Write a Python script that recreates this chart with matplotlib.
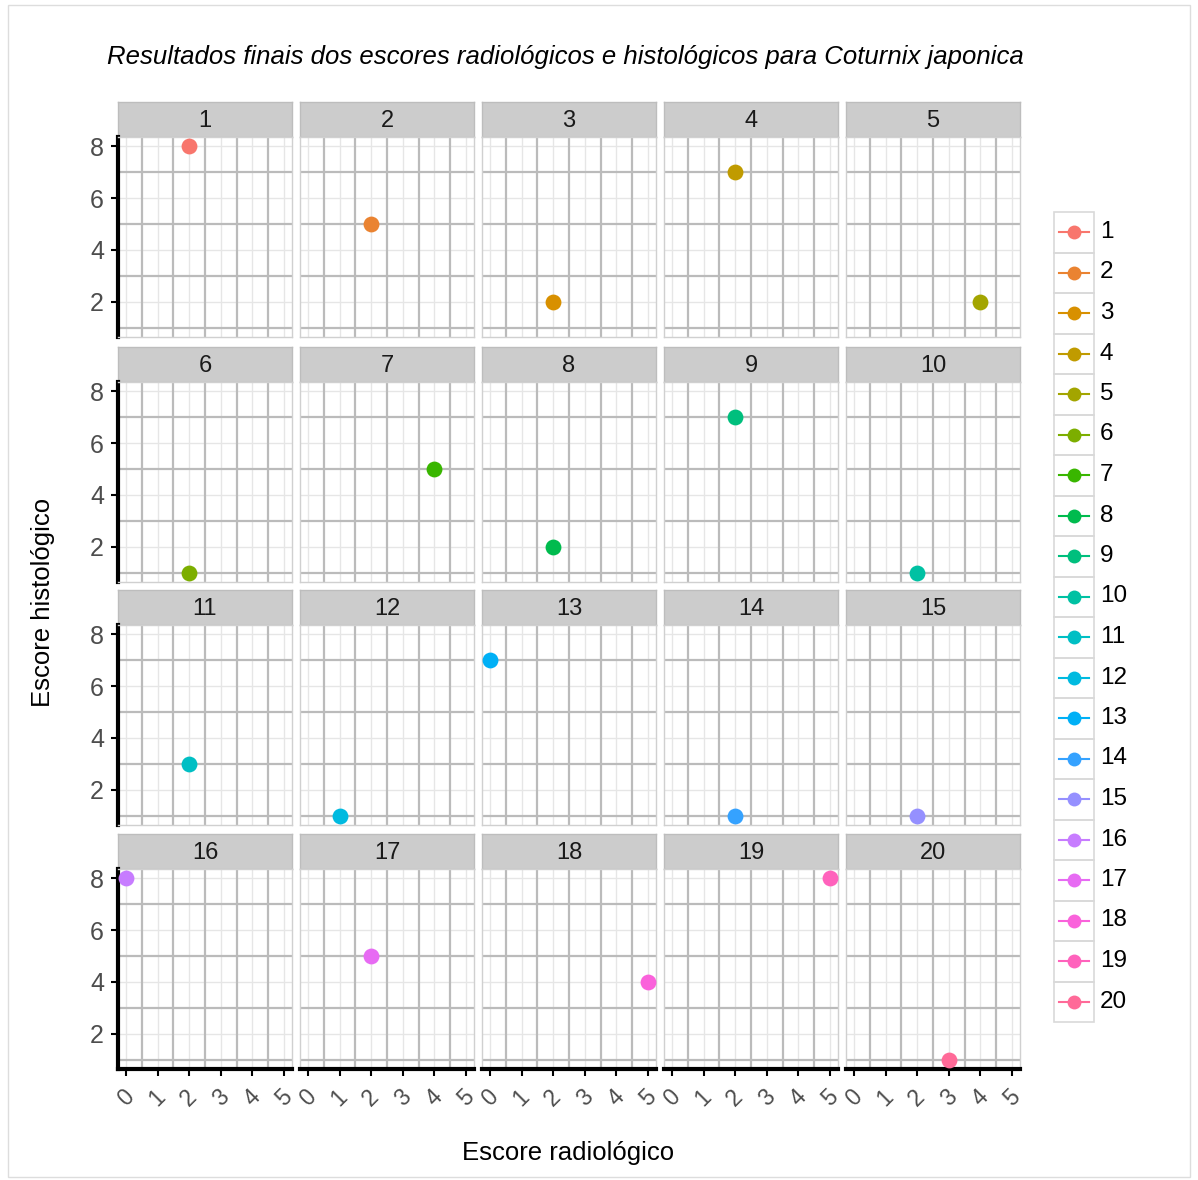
import matplotlib
matplotlib.use('Agg')
import matplotlib.pyplot as plt
from matplotlib.patches import Rectangle
from matplotlib.lines import Line2D
import numpy as np

plt.rcParams['font.family'] = ['Liberation Sans', 'DejaVu Sans']

# data: one point per animal
animals = [str(i) for i in range(1, 21)]
radio = [2, 2, 2, 2, 4, 2, 4, 2, 2, 2, 2, 1, 0, 2, 2, 0, 2, 5, 5, 3]
histo = [8, 5, 2, 7, 2, 1, 5, 2, 7, 1, 3, 1, 7, 1, 1, 8, 5, 4, 8, 1]
x_ticks = [0, 1, 2, 3, 4, 5]
y_ticks = [2, 4, 6, 8]


def hue_pal(n, c=100.0, l=65.0):
    # ggplot2 default discrete palette (polar LUV -> sRGB)
    hues = np.linspace(15, 375, n + 1)[:n]
    xn, yn, zn = 95.047, 100.0, 108.883
    un = 4 * xn / (xn + 15 * yn + 3 * zn)
    vn = 9 * yn / (xn + 15 * yn + 3 * zn)
    m = np.array([[3.2404542, -1.5371385, -0.4985314],
                  [-0.9692660, 1.8760108, 0.0415560],
                  [0.0556434, -0.2040259, 1.0572252]])
    out = []
    for h in hues:
        u = c * np.cos(np.radians(h))
        v = c * np.sin(np.radians(h))
        Y = yn * ((l + 16) / 116) ** 3
        up = u / (13 * l) + un
        vp = v / (13 * l) + vn
        X = Y * 9 * up / (4 * vp)
        Z = Y * (12 - 3 * up - 20 * vp) / (4 * vp)
        rgb = m @ (np.array([X, Y, Z]) / 100)
        rgb = np.where(rgb <= 0.0031308, 12.92 * rgb,
                       1.055 * np.clip(rgb, 0, None) ** (1 / 2.4) - 0.055)
        out.append(tuple(np.clip(rgb, 0, 1)))
    return out


colors = hue_pal(len(animals))

W, H = 1198, 1180
fig = plt.figure(figsize=(W / 100, H / 100), dpi=100)
fig.patches.append(Rectangle((8 / W, 3 / H), 1182 / W, 1172 / H,
                             transform=fig.transFigure, fill=False,
                             edgecolor='#DDDDDD', lw=1))


def fax(x0, y0, w, h):
    return fig.add_axes([x0 / W, 1 - (y0 + h) / H, w / W, h / H])


col_x = [118, 300, 482, 664, 846]
row_y = [102, 347, 590, 834]
pw, sh, ph = 174, 35, 200

xlim = (-0.25, 5.25)
ylim = (0.65, 8.35)

for i, name in enumerate(animals):
    r, c = divmod(i, 5)
    x0, y0 = col_x[c], row_y[r]

    # strip
    sa = fax(x0, y0, pw, sh)
    sa.set_facecolor('#CCCCCC')
    sa.set_xticks([]); sa.set_yticks([])
    for s in sa.spines.values():
        s.set_color('#BDBDBD'); s.set_linewidth(1)
    sa.text(0.5, 0.47, name, ha='center', va='center', fontsize=17,
            color='#1A1A1A', transform=sa.transAxes)

    ax = fax(x0, y0 + sh, pw, ph)
    ax.set_xlim(*xlim); ax.set_ylim(*ylim)
    for xv in x_ticks:
        ax.axvline(xv, color='#E6E6E6', lw=1.0, zorder=0)
    for yv in y_ticks:
        ax.axhline(yv, color='#E6E6E6', lw=1.0, zorder=0)
    for xv in np.array(x_ticks[:-1]) + 0.5:
        ax.axvline(xv, color='#BBBBBB', lw=1.6, zorder=1)
    for yv in np.array(y_ticks) - 1:
        ax.axhline(yv, color='#BBBBBB', lw=1.6, zorder=1)

    ax.scatter([radio[i]], [histo[i]], s=130, color=colors[i], zorder=5,
               clip_on=False, linewidths=0)

    for s in ax.spines.values():
        s.set_color('#D0D0D0'); s.set_linewidth(1)

    ax.set_xticks(x_ticks)
    ax.set_yticks(y_ticks)
    ax.tick_params(length=5, width=1.5, color='black', labelsize=18,
                   labelcolor='#4D4D4D', pad=5)
    if c == 0:
        ax.spines['left'].set_color('black')
        ax.spines['left'].set_linewidth(3)
    else:
        ax.tick_params(axis='y', left=False, labelleft=False)
    if r == 3:
        ax.spines['bottom'].set_color('black')
        ax.spines['bottom'].set_linewidth(3)
        ax.tick_params(axis='x', pad=7)
        ax.set_xticklabels([str(t) for t in x_ticks], rotation=45,
                           ha='center', va='top', fontsize=16.5)
    else:
        ax.tick_params(axis='x', bottom=False, labelbottom=False)

fig.text(565 / W, 1 - 57 / H,
         'Resultados finais dos escores radiológicos e histológicos para Coturnix japonica',
         ha='center', va='center', fontsize=18.5, style='italic', color='black')
fig.text(568 / W, 1 - 1153 / H, 'Escore radiológico', ha='center',
         va='center', fontsize=18.5)
fig.text(43 / W, 1 - 602 / H, 'Escore histológico', ha='center',
         va='center', fontsize=18.5, rotation=90)

# legend
la = fax(1050, 200, 130, 840)
la.set_xlim(1050, 1180)
la.set_ylim(1040, 200)
la.axis('off')
for i, name in enumerate(animals):
    cy = 232 + 40.5 * i
    la.add_patch(Rectangle((1054, cy - 20), 40, 40.5, fill=False,
                           edgecolor='#D9D9D9', lw=1.2))
    la.add_line(Line2D([1059, 1089], [cy, cy], color=colors[i], lw=1.5))
    la.plot([1074], [cy], 'o', ms=10, color=colors[i], mec='none')
    la.text(1100, cy, name, ha='left', va='center', fontsize=17.5,
            color='black')

fig.savefig('out.png', dpi=100)
